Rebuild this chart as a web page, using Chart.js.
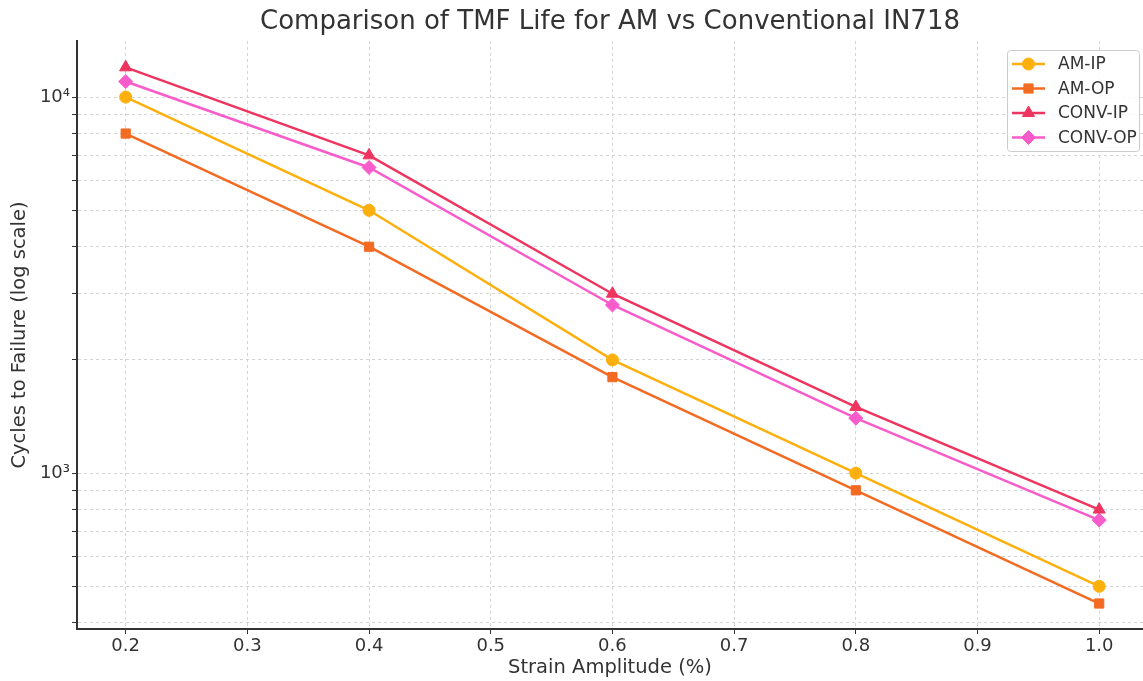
<!DOCTYPE html>
<html>
<head>
<meta charset="utf-8">
<script src="https://cdn.jsdelivr.net/npm/chart.js@4/dist/chart.umd.min.js"></script>
<style>
  html, body { margin: 0; padding: 0; background: #fff; overflow: hidden; }
</style>
</head>
<body>
<canvas id="tmfChart" width="1143" height="681"></canvas>
<script>
// strain amplitude (%) and cycles to failure per series
const strain = [0.2, 0.4, 0.6, 0.8, 1.0];
const amIP = [10000, 5000, 2000, 1000, 500];
const amOP = [8000, 4000, 1800, 900, 450];
const convIP = [12000, 7000, 3000, 1500, 800];
const convOP = [11000, 6500, 2800, 1400, 750];

const seriesNames = ['AM-IP', 'AM-OP', 'CONV-IP', 'CONV-OP'];
const xTicks = [0.2, 0.3, 0.4, 0.5, 0.6, 0.7, 0.8, 0.9, 1.0];
const yTicks = [400, 500, 600, 700, 800, 900, 1000, 2000, 3000, 4000, 5000, 6000, 7000, 8000, 9000, 10000];

const FONT = "'DejaVu Sans', sans-serif";
const TXT = '#333333';

function makeSet(label, values, color, style, radius) {
    return {
        label: label,
        data: strain.map((s, i) => ({ x: s, y: values[i] })),
        borderColor: color,
        backgroundColor: color,
        borderWidth: 2.5,
        pointStyle: style,
        pointRadius: radius,
        pointBorderWidth: 1,
        pointHoverRadius: radius,
        tension: 0
    };
}

// legend in a rounded box, top right inside the plot
const boxLegend = {
    id: 'boxLegend',
    afterDraw(chart) {
        const ctx = chart.ctx;
        const area = chart.chartArea;
        const bx = area.right - 136, by = area.top + 9, bw = 132, bh = 101;
        ctx.save();
        ctx.fillStyle = 'rgba(255,255,255,0.85)';
        ctx.strokeStyle = '#cccccc';
        ctx.lineWidth = 1;
        ctx.beginPath();
        ctx.roundRect(bx + 0.5, by + 0.5, bw, bh, 3);
        ctx.fill();
        ctx.stroke();
        ctx.font = '17px ' + FONT;
        ctx.textBaseline = 'middle';
        chart.data.datasets.forEach((ds, i) => {
            const ry = by + 14 + i * 24.5;
            ctx.strokeStyle = ds.borderColor;
            ctx.lineWidth = 2.5;
            ctx.beginPath();
            ctx.moveTo(bx + 5, ry);
            ctx.lineTo(bx + 38, ry);
            ctx.stroke();
            ctx.fillStyle = ds.backgroundColor;
            ctx.lineWidth = 1;
            Chart.helpers.drawPoint(ctx, {
                pointStyle: ds.pointStyle,
                radius: ds.pointRadius,
                rotation: 0,
                borderWidth: 1
            }, bx + 21.5, ry);
            ctx.fillStyle = TXT;
            ctx.fillText(ds.label, bx + 51, ry + 1);
        });
        ctx.restore();
    }
};

function noPad(scale) {
    scale.paddingLeft = 0;
    scale.paddingRight = 0;
    scale.paddingTop = 0;
    scale.paddingBottom = 0;
}

const ctx = document.getElementById('tmfChart').getContext('2d');
new Chart(ctx, {
    type: 'line',
    data: {
        datasets: [
            makeSet(seriesNames[0], amIP, '#fdb00d', 'circle', 6),
            makeSet(seriesNames[1], amOP, '#f36b22', 'rect', 6.5),
            makeSet(seriesNames[2], convIP, '#ee3560', 'triangle', 7),
            makeSet(seriesNames[3], convOP, '#f85ccb', 'rectRot', 7)
        ]
    },
    options: {
        responsive: false,
        animation: false,
        events: [],
        layout: { padding: 0, autoPadding: false },
        plugins: {
            legend: { display: false },
            tooltip: { enabled: false },
            title: {
                display: true,
                fullSize: false,
                text: 'Comparison of TMF Life for AM vs Conventional IN718',
                color: TXT,
                font: { family: FONT, size: 26, weight: 'normal' },
                padding: { top: 6.4, bottom: 3.4 }
            }
        },
        scales: {
            x: {
                type: 'linear',
                min: 0.16,
                max: 1.036,
                afterFit: (scale) => { scale.height = 52; noPad(scale); },
                afterBuildTicks: (scale) => { scale.ticks = xTicks.map(v => ({ value: v })); },
                ticks: {
                    color: TXT,
                    font: { family: FONT, size: 18 },
                    padding: 2,
                    autoSkip: false,
                    maxRotation: 0,
                    callback: (v) => Number(v).toFixed(1)
                },
                grid: { color: '#d4d4d4', lineWidth: 1, tickLength: 5, tickColor: TXT },
                border: { color: TXT, width: 2, dash: [3, 3] },
                title: {
                    display: true,
                    text: 'Strain Amplitude (%)',
                    color: TXT,
                    font: { family: FONT, size: 19.5 },
                    padding: { top: 0, bottom: 1.3 }
                }
            },
            y: {
                type: 'logarithmic',
                min: 385,
                max: 14100,
                afterFit: (scale) => { scale.width = 77; noPad(scale); },
                afterBuildTicks: (scale) => { scale.ticks = yTicks.map(v => ({ value: v })); },
                ticks: {
                    color: TXT,
                    font: { family: FONT, size: 18 },
                    padding: 2,
                    autoSkip: false,
                    callback: (v) => {
                        if (v === 1000) return '10³';
                        if (v === 10000) return '10⁴';
                        return '';
                    }
                },
                grid: { color: '#d4d4d4', lineWidth: 1, tickLength: 5, tickColor: TXT },
                border: { color: TXT, width: 2, dash: [3, 3] },
                title: {
                    display: true,
                    text: 'Cycles to Failure (log scale)',
                    color: TXT,
                    font: { family: FONT, size: 19.5 },
                    padding: { top: 8.3, bottom: 0 }
                }
            }
        }
    },
    plugins: [boxLegend]
});
</script>
</body>
</html>
